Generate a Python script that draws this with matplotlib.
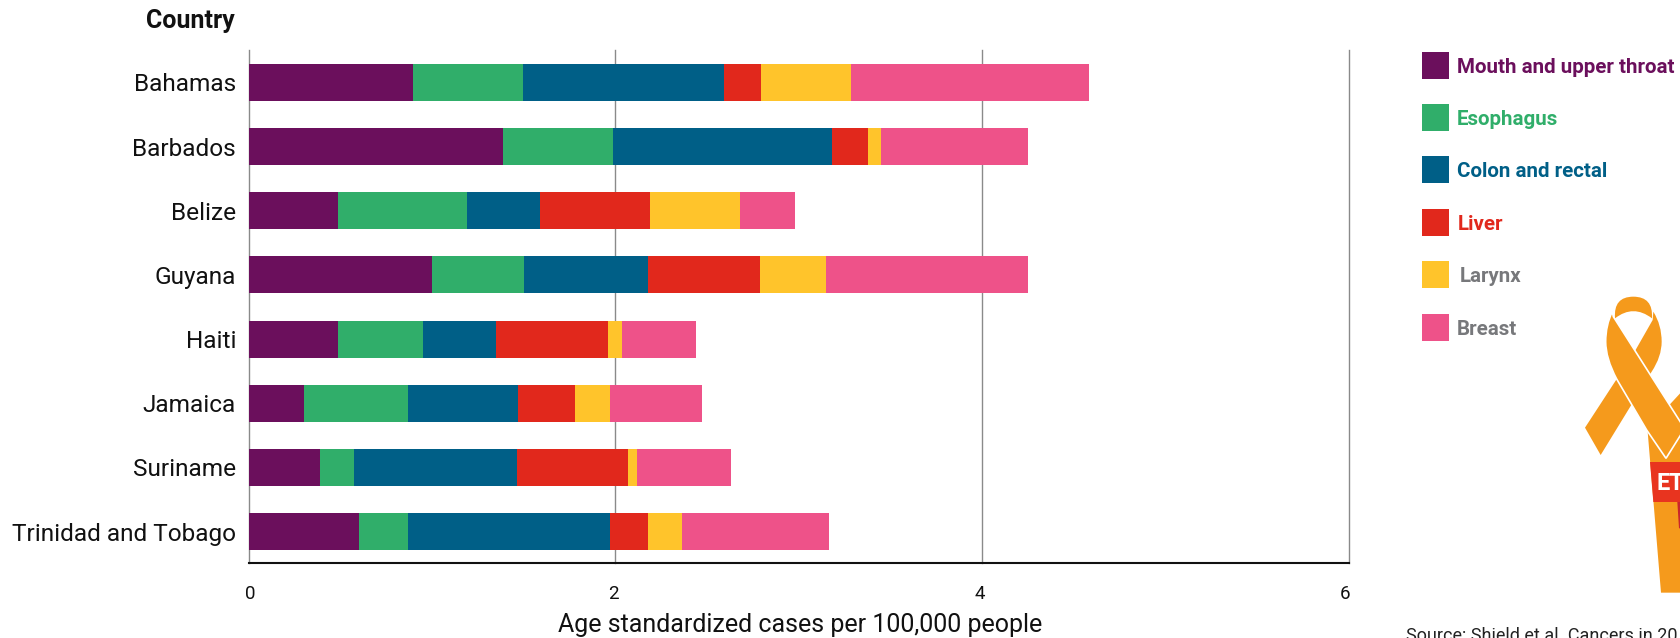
"""Stacked bars of cancer cases by site for Caribbean countries, with a ribbon graphic."""

import matplotlib
matplotlib.use("Agg")
import matplotlib.pyplot as plt
from matplotlib.patches import PathPatch, Polygon, Rectangle
from matplotlib.path import Path
from matplotlib.transforms import ScaledTranslation

plt.rcParams["font.family"] = ["Roboto", "DejaVu Sans"]

countries = ["Bahamas", "Barbados", "Belize", "Guyana", "Haiti", "Jamaica",
             "Suriname", "Trinidad and Tobago"]
sites = ["Mouth and upper throat", "Esophagus", "Colon and rectal", "Liver", "Larynx", "Breast"]

mouth = [0.895, 1.39, 0.49, 1.00, 0.49, 0.30, 0.39, 0.60]
esophagus = [0.60, 0.60, 0.70, 0.50, 0.46, 0.57, 0.185, 0.27]
colon = [1.10, 1.19, 0.40, 0.68, 0.40, 0.60, 0.89, 1.10]
liver = [0.20, 0.20, 0.60, 0.61, 0.61, 0.31, 0.605, 0.21]
larynx = [0.49, 0.07, 0.49, 0.36, 0.075, 0.19, 0.05, 0.185]
breast = [1.30, 0.80, 0.30, 1.10, 0.405, 0.50, 0.51, 0.80]
series = [mouth, esophagus, colon, liver, larynx, breast]

xticks = [0, 2, 4, 6]

colors = ["#6b0f5c", "#30ae6a", "#005f87", "#e1281c", "#ffc42b", "#ee5289"]
text_colors = ["#6b0f5c", "#30ae6a", "#005f87", "#e1281c", "#77787b", "#77787b"]
ORANGE = "#f59a1c"

W, H = 1680, 638
fig = plt.figure(figsize=(W / 100, H / 100), dpi=100, facecolor="white")

# axes placed in pixels so the grid lands where it should
ax = fig.add_axes([248.5 / W, 1 - 563 / H, 1100.5 / W, 513.5 / H])
ax.set_xlim(0, 6)
ax.set_ylim(7.49, -0.514)

lefts = [0.0] * len(countries)
for vals, color in zip(series, colors):
    ax.barh(range(len(countries)), vals, left=lefts, height=0.576, color=color, zorder=3)
    lefts = [a + b for a, b in zip(lefts, vals)]

ax.set_xticks(xticks, [str(t) for t in xticks])
ax.set_yticks(range(len(countries)), countries)
ax.grid(axis="x", color="#8a8a8a", lw=1.0, zorder=1)
# the first and last gridlines sit on the axes edge, don't let them get clipped
for gl in ax.get_xgridlines():
    gl.set_clip_on(False)
ax.tick_params(axis="x", length=0, pad=16, labelsize=13.5, labelcolor="#111111")
ax.tick_params(axis="y", length=0, pad=9, labelsize=17.6, labelcolor="#111111")
for spine in ["top", "left", "right"]:
    ax.spines[spine].set_visible(False)
ax.spines["bottom"].set_linewidth(1.5)
ax.spines["bottom"].set_color("#111111")

# numbers sit a little off their gridlines
for label, dx in zip(ax.get_xticklabels(), [2, -2, -2, -4]):
    shift = ScaledTranslation(dx / 100, 0, fig.dpi_scale_trans)
    label.set_transform(label.get_transform() + shift)

# overlay in pixel coordinates for the legend, titles and ribbon
ov = fig.add_axes([0, 0, 1, 1], zorder=5)
ov.set_xlim(0, W)
ov.set_ylim(H, 0)
ov.axis("off")

ov.text(235, 21, "Country", ha="right", va="center", fontsize=18, fontweight="bold", color="#111111")
ov.text(800, 625, "Age standardized cases per 100,000 people", ha="center", va="center",
        fontsize=18, color="#111111")
ov.text(1406, 627, "Source: Shield et al. Cancers in 20", ha="left", va="top",
        fontsize=13, color="#222222")

legend_tops = [52, 104, 156, 209, 261, 314]
legend_text_x = [1457, 1457, 1457, 1458, 1460, 1457]
for name, color, tcolor, top, tx in zip(sites, colors, text_colors, legend_tops, legend_text_x):
    ov.add_patch(Rectangle((1422, top), 27, 27, color=color, lw=0))
    ov.text(tx, top + 21, name, ha="left", va="baseline", fontsize=14.8, fontweight="bold", color=tcolor)


def rib(pts):
    """Ribbon outlines are traced in a 3x grid anchored at (1380, 280)."""
    return [(1380 + x / 3, 280 + y / 3) for x, y in pts]


def curve(start, *segs):
    verts, codes = [start], [Path.MOVETO]
    for seg in segs:
        verts.extend(seg)
        codes.extend([Path.CURVE3] * 2 if len(seg) == 2 else [Path.LINETO])
    return Path(rib(verts), codes)


# lower body with the red band
ov.add_patch(Polygon(rib([(803, 455), (843, 938), (910, 938), (910, 440)]), color=ORANGE, lw=0))
ov.add_patch(Polygon(rib([(810, 546), (820, 666), (910, 666), (910, 546)]), color="#e8341f", lw=0))
ov.add_patch(Polygon(rib([(892, 666), (897, 745), (910, 745), (910, 666)]), color="#c9252c", lw=0))
ov.text(1657, 484, "ET", ha="left", va="center", fontsize=17, fontweight="bold", color="white")

# right tail behind the front strand
ov.add_patch(Polygon(rib([(868, 375), (905, 335), (910, 440), (890, 420)]), color=ORANGE, lw=0))

# top of the loop
ov.add_patch(PathPatch(curve((705, 115), [(700, 50), (760, 50)], [(820, 50), (816, 115)],
                             [(760, 72), (705, 115)]), color=ORANGE, lw=0))

# back strand: right side of the loop running down into the left tail
back = curve((820, 95), [(845, 135), (845, 185)], [(845, 230), (815, 275)], [(662, 525)], [(615, 443)],
             [(765, 213)], [(818, 120)], [(820, 95)])
ov.add_patch(PathPatch(back, facecolor=ORANGE, edgecolor="none"))

# front strand: left side of the loop crossing over to the lower right
front = curve((697, 95), [(677, 135), (677, 185)], [(677, 235), (710, 297)], [(800, 450)], [(858, 535)],
              [(905, 460)], [(905, 432)], [(700, 110)], [(697, 95)])
ov.add_patch(PathPatch(front, facecolor=ORANGE, edgecolor="white", lw=1.2))

fig.savefig("out.png", dpi=100)
